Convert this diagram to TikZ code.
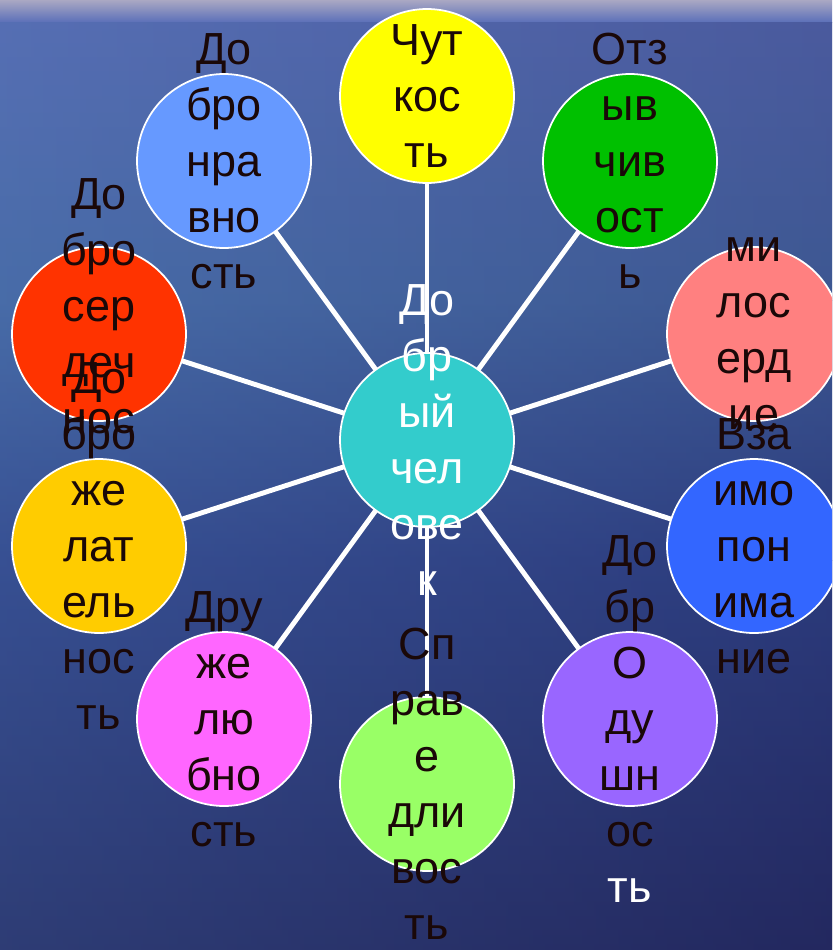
\documentclass[tikz,border=0pt]{standalone}
\usepackage{fontspec}
\setmainfont{Liberation Sans}
\usetikzlibrary{calc}

\definecolor{bgA}{RGB}{170,168,195}
\definecolor{bgB}{RGB}{92,112,185}
\definecolor{bgC}{RGB}{72,108,168}
\definecolor{bgD}{RGB}{48,68,138}
\definecolor{bgE}{RGB}{35,40,95}
\definecolor{ink}{RGB}{26,8,8}
\definecolor{cTeal}{RGB}{51,204,204}
\definecolor{cYellow}{RGB}{255,255,0}
\definecolor{cGreen}{RGB}{0,192,0}
\definecolor{cSalmon}{RGB}{255,128,128}
\definecolor{cBlue}{RGB}{51,102,255}
\definecolor{cPurple}{RGB}{153,102,255}
\definecolor{cLime}{RGB}{153,255,102}
\definecolor{cPink}{RGB}{255,102,255}
\definecolor{cGold}{RGB}{255,204,0}
\definecolor{cRed}{RGB}{255,51,0}
\definecolor{cSky}{RGB}{102,153,255}

\tikzset{
	bubble/.style={circle, draw=white, line width=1pt, minimum size=3.48cm, inner sep=0pt},
	txt/.style={text=ink, align=center, inner sep=0pt, font=\fontsize{25.6}{31.9}\selectfont},
	spoke/.style={draw=white, line width=2.8pt}
}

\begin{document}
\begin{tikzpicture}[x=0.02cm, y=-0.02cm]
			%%%%% BACKGROUND %%%%%
			\useasboundingbox (0,0) rectangle (832,950);
			\clip (0,0) rectangle (832,950);
			\shade[top color=bgA, bottom color=bgB] (0,0) rectangle (832,22);
			\shade[top color=bgB, bottom color=bgC] (0,22) rectangle (832,300);
			\shade[top color=bgC, bottom color=bgD] (0,300) rectangle (832,560);
			\shade[top color=bgD, bottom color=bgE] (0,560) rectangle (832,950);
			\shade[left color=bgC, right color=bgE, opacity=0.3] (0,22) rectangle (832,950);
			
			%%%%% SPOKES %%%%%
			\coordinate (c) at (427,440);
			\coordinate (chut) at (427,96);
			\coordinate (otz) at (630,161);
			\coordinate (mil) at (754,334);
			\coordinate (vza) at (754,546);
			\coordinate (dobrod) at (630,719);
			\coordinate (sprav) at (427,784);
			\coordinate (druzh) at (224,719);
			\coordinate (dobrozh) at (99,546);
			\coordinate (dobros) at (99,334);
			\coordinate (dobron) at (224,161);
			
			\foreach \p in {chut,otz,mil,vza,dobrod,sprav,druzh,dobrozh,dobros,dobron}
				\draw[spoke] (c) -- (\p);
			
			%%%%% BUBBLES %%%%%
			\node[bubble, fill=cTeal, label={[txt, text=white]center:{До\\бр\\ый\\чел\\ове\\к}}] (mid) at (c) {};
			
			\node[bubble, fill=cYellow, label={[txt]center:{Чут\\кос\\ть}}] (nChut) at (chut) {};
			\node[bubble, fill=cGreen, label={[txt]center:{Отз\\ыв\\чив\\ост\\ь}}] (nOtz) at (otz) {};
			\node[bubble, fill=cSalmon, label={[txt]center:{ми\\лос\\ерд\\ие}}] (nMil) at (mil) {};
			\node[bubble, fill=cBlue, label={[txt]center:{Вза\\имо\\пон\\има\\ние}}] (nVza) at (vza) {};
			\node[bubble, fill=cPurple, label={[txt]center:{До\\бр\\О\\ду\\шн\\ос\\\textcolor{white}{ть}}}] (nDobrod) at (dobrod) {};
			\node[bubble, fill=cLime, label={[txt]center:{Сп\\рав\\е\\дли\\вос\\ть}}] (nSprav) at (sprav) {};
			\node[bubble, fill=cPink, label={[txt]center:{Дру\\же\\лю\\бно\\сть}}] (nDruzh) at (druzh) {};
			\node[bubble, fill=cSky, label={[txt]center:{До\\бро\\нра\\вно\\сть}}] (nDobron) at (dobron) {};
			\node[bubble, fill=cRed, label={[txt]center:{До\\бро\\сер\\деч\\нос\\ть}}] (nDobros) at (dobros) {};
			\node[bubble, fill=cGold, label={[txt]center:{До\\бро\\же\\лат\\ель\\нос\\ть}}] (nDobrozh) at (dobrozh) {};
			
\end{tikzpicture}
\end{document}
